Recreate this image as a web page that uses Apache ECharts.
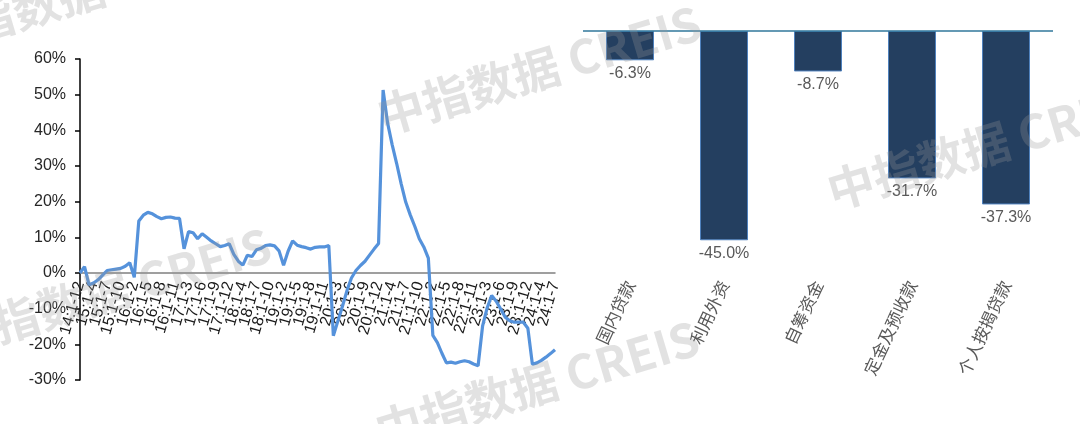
<!DOCTYPE html>
<html>
<head>
<meta charset="utf-8">
<script src="https://cdn.jsdelivr.net/npm/echarts@6/dist/echarts.min.js"></script>
<style>
html,body{margin:0;padding:0;background:#fff;}
#chart{width:1080px;height:424px;}
</style>
</head>
<body>
<div id="chart"></div>
<script>
const lineLabels = [
  "14:1-12",
  "15:1-2","15:1-3","15:1-4","15:1-5","15:1-6","15:1-7","15:1-8","15:1-9","15:1-10","15:1-11","15:1-12",
  "16:1-2","16:1-3","16:1-4","16:1-5","16:1-6","16:1-7","16:1-8","16:1-9","16:1-10","16:1-11","16:1-12",
  "17:1-2","17:1-3","17:1-4","17:1-5","17:1-6","17:1-7","17:1-8","17:1-9","17:1-10","17:1-11","17:1-12",
  "18:1-2","18:1-3","18:1-4","18:1-5","18:1-6","18:1-7","18:1-8","18:1-9","18:1-10","18:1-11","18:1-12",
  "19:1-2","19:1-3","19:1-4","19:1-5","19:1-6","19:1-7","19:1-8","19:1-9","19:1-10","19:1-11","19:1-12",
  "20:1-2","20:1-3","20:1-4","20:1-5","20:1-6","20:1-7","20:1-8","20:1-9","20:1-10","20:1-11","20:1-12",
  "21:1-2","21:1-3","21:1-4","21:1-5","21:1-6","21:1-7","21:1-8","21:1-9","21:1-10","21:1-11","21:1-12",
  "22:1-2","22:1-3","22:1-4","22:1-5","22:1-6","22:1-7","22:1-8","22:1-9","22:1-10","22:1-11","22:1-12",
  "23:1-2","23:1-3","23:1-4","23:1-5","23:1-6","23:1-7","23:1-8","23:1-9","23:1-10","23:1-11","23:1-12",
  "24:1-2","24:1-3","24:1-4","24:1-5","24:1-6","24:1-7"
];
const lineValues = [
  0.0,
  1.8,-3.3,-2.8,-1.9,-0.6,0.7,0.9,1.1,1.3,1.9,2.9,
  -1.2,14.6,16.2,17.0,16.6,15.8,15.2,15.6,15.7,15.4,15.3,
  6.8,11.6,11.3,9.6,11.0,10.0,9.0,8.2,7.4,7.7,8.2,
  5.2,3.3,2.2,5.0,4.6,6.5,6.9,7.7,7.9,7.6,6.2,
  2.2,6.1,9.0,7.8,7.4,7.1,6.7,7.2,7.3,7.3,7.7,
  -17.6,-13.5,-9.4,-5.0,-1.4,0.7,2.1,3.3,5.0,6.7,8.3,
  51.3,42.0,36.0,30.7,25.0,19.9,16.3,13.1,9.6,7.3,4.2,
  -17.5,-19.5,-22.5,-25.2,-25.0,-25.3,-24.9,-24.6,-24.9,-25.5,-26.0,
  -14.8,-9.8,-6.3,-7.9,-10.1,-12.4,-13.4,-13.8,-13.8,-13.8,-15.5,
  -25.6,-25.2,-24.5,-23.6,-22.6,-21.5
];
const yTicksLeft = {min: -30, max: 60, interval: 10};
const barCategories = ["国内贷款","利用外资","自筹资金","定金及预收款","个人按揭贷款"];
const barValues = [-6.3, -45.0, -8.7, -31.7, -37.3];
const watermarkText = "中指数据 CREIS";

const chart = echarts.init(document.getElementById('chart'), null, {renderer: 'canvas'});

const wmPositions = [[-70, 62], [385, 140], [835, 215], [-45, 362], [383, 455]];
const graphics = wmPositions.map(p => ({
  type: 'text',
  x: p[0], y: p[1],
  rotation: 0.29,
  z: 100,
  silent: true,
  style: {
    text: watermarkText,
    fontSize: 47,
    fontWeight: 'bold',
    fontFamily: '"Noto Sans CJK SC", "Liberation Sans", sans-serif',
    fill: 'rgba(150,150,150,0.28)',
    textAlign: 'left',
    textVerticalAlign: 'bottom'
  }
}));

const gridL = {left: 80, top: 59, width: 475, height: 321};
const zeroFrac = yTicksLeft.max / (yTicksLeft.max - yTicksLeft.min);
const labelStep = 3;

function labelAxis(gridIndex, phase) {
  return {
    type: 'category', gridIndex: gridIndex, data: lineLabels, boundaryGap: false, position: 'bottom',
    axisLine: {show: false, onZero: false},
    axisTick: {show: false},
    axisLabel: {
      interval: (idx) => idx % (labelStep * 2) === phase,
      rotate: 74, fontSize: 16, color: '#1a1a1a', margin: 9,
      showMinLabel: true, showMaxLabel: true,
      hideOverlap: false,
      fontFamily: '"Liberation Sans", Arial, sans-serif'
    },
    splitLine: {show: false}
  };
}

const option = {
  animation: false,
  backgroundColor: '#ffffff',
  textStyle: {fontFamily: '"Liberation Sans", Arial, sans-serif'},
  graphic: graphics,
  grid: [
    {left: gridL.left, top: gridL.top, width: gridL.width, height: gridL.height},
    {left: 583, top: 31, width: 470, height: 232.5},
    {left: gridL.left, top: gridL.top, width: gridL.width, height: gridL.height * zeroFrac},
    {left: gridL.left, top: gridL.top, width: gridL.width, height: gridL.height * zeroFrac}
  ],
  xAxis: [
    {
      type: 'category', gridIndex: 0, data: lineLabels, boundaryGap: false,
      axisLine: {onZero: true, lineStyle: {color: '#808080', width: 1.5}},
      axisTick: {show: false},
      axisLabel: {show: false},
      splitLine: {show: false}
    },
    {
      type: 'category', gridIndex: 1, data: barCategories, position: 'bottom',
      axisLine: {show: false, onZero: false},
      axisTick: {show: false},
      axisLabel: {interval: 0, rotate: 65, fontSize: 17, color: '#595959', margin: 18,
                  fontFamily: '"Noto Sans CJK SC", sans-serif'},
      splitLine: {show: false}
    },
    labelAxis(2, 0),
    labelAxis(3, labelStep)
  ],
  yAxis: [
    {
      type: 'value', gridIndex: 0, min: yTicksLeft.min, max: yTicksLeft.max, interval: yTicksLeft.interval,
      axisLine: {show: true, onZero: false, lineStyle: {color: '#000000', width: 1.5}},
      axisTick: {show: true, inside: false, length: 5, lineStyle: {color: '#000000', width: 1.5}},
      axisLabel: {formatter: '{value}%', fontSize: 16, color: '#262626', margin: 14,
                  fontFamily: '"Liberation Sans", Arial, sans-serif'},
      splitLine: {show: false}
    },
    {type: 'value', gridIndex: 1, min: -50, max: 0, show: false, splitLine: {show: false}},
    {type: 'value', gridIndex: 2, min: 0, max: 1, show: false, splitLine: {show: false}},
    {type: 'value', gridIndex: 3, min: 0, max: 1, show: false, splitLine: {show: false}}
  ],
  series: [
    {
      type: 'line', xAxisIndex: 0, yAxisIndex: 0, data: lineValues,
      symbol: 'none', smooth: false,
      lineStyle: {color: '#5592DB', width: 3.2},
      z: 3
    },
    {
      type: 'bar', xAxisIndex: 1, yAxisIndex: 1, data: barValues,
      barWidth: 48,
      itemStyle: {color: '#243F60', borderColor: '#4F81BD', borderWidth: 1},
      label: {show: true, position: 'bottom', distance: 5, color: '#595959', fontSize: 16,
              fontFamily: '"Liberation Sans", Arial, sans-serif',
              formatter: p => p.value.toFixed(1) + '%'},
      markLine: {
        silent: true, symbol: 'none',
        label: {show: false},
        lineStyle: {color: '#31779B', width: 1.5, type: 'solid'},
        data: [{yAxis: 0}]
      }
    }
  ]
};
chart.setOption(option);
</script>
</body>
</html>
